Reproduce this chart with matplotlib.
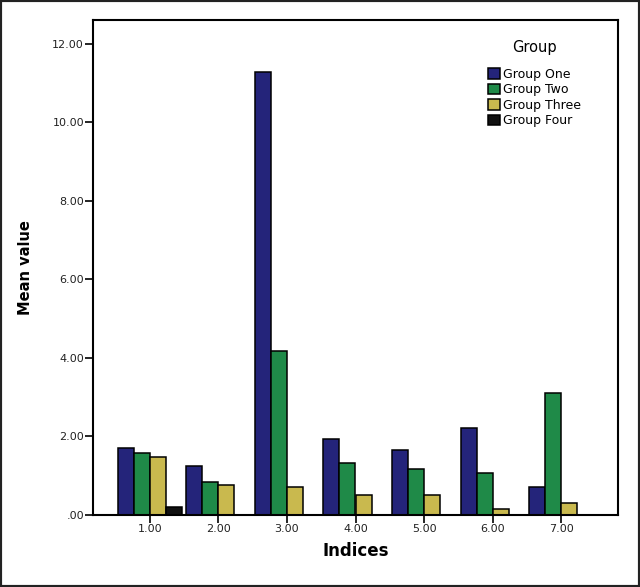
import numpy as np
from matplotlib import pyplot as plt
from matplotlib.patches import Rectangle

# data
indices = [1.00, 2.00, 3.00, 4.00, 5.00, 6.00, 7.00]
group_one = [1.71, 1.26, 11.28, 1.93, 1.66, 2.22, 0.71]
group_two = [1.57, 0.85, 4.19, 1.32, 1.16, 1.08, 3.12]
group_three = [1.47, 0.76, 0.71, 0.51, 0.51, 0.15, 0.31]
group_four = [0.21, 0.0, 0.0, 0.0, 0.0, 0.0, 0.0]

names = ['Group One', 'Group Two', 'Group Three', 'Group Four']
colors = ['#24247a', '#1f8a48', '#c9b94e', '#111111']
series = [group_one, group_two, group_three, group_four]

fig = plt.figure(figsize=(6.4, 5.87), dpi=100)
ax = fig.add_axes([93/640, 72/587, 525/640, 495/587])

x = np.array(indices)
w = 0.234
for i, (vals, name, c) in enumerate(zip(series, names, colors)):
    ax.bar(x + (i - 1.5)*w, vals, w, color=c, edgecolor='black',
           linewidth=1.1, label=name)

ax.set_xlim(0.17, 7.83)
ax.set_ylim(0, 12.61)
ax.set_xticks(indices)
ax.set_xticklabels(['%.2f' % v for v in indices])
yt = [0, 2, 4, 6, 8, 10, 12]
ax.set_yticks(yt)
ax.set_yticklabels(['.00'] + ['%.2f' % v for v in yt[1:]])
ax.tick_params(axis='both', labelsize=8, length=5.5, width=1.2, pad=1,
               labelcolor='#222222')

for s in ax.spines.values():
    s.set_linewidth(1.5)

ax.set_xlabel('Indices', fontsize=12, fontweight='bold', labelpad=6)
ax.set_ylabel('Mean value', fontsize=10.5, fontweight='bold', labelpad=14)

leg = ax.legend(title='Group', frameon=False, fontsize=9,
                title_fontsize=10.5, loc='upper left',
                bbox_to_anchor=(482/640, 1 - 34/587), bbox_transform=fig.transFigure,
                handlelength=0.95, handleheight=0.95, handletextpad=0.2,
                labelspacing=0.2, borderpad=0)
leg._legend_box.sep = 9

# dark frame around the whole picture
fig.patches.append(Rectangle((0, 0), 1, 1, transform=fig.transFigure,
                             fill=False, edgecolor='#222222', linewidth=3))

plt.savefig('out.png', dpi=100)
